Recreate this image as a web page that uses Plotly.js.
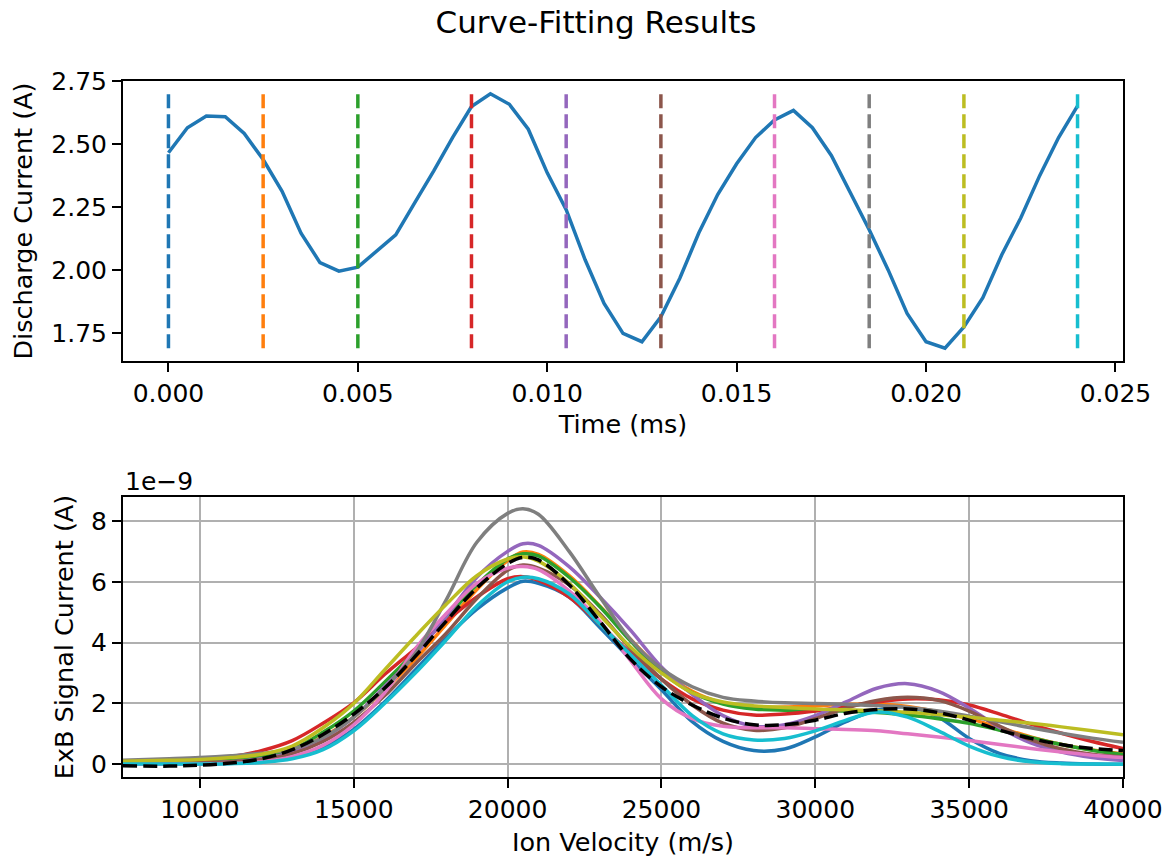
<!DOCTYPE html>
<html>
<head>
<meta charset="utf-8">
<script src="https://cdn.plot.ly/plotly-3.0.1.min.js"></script>
<style>html,body{margin:0;padding:0;background:#fff;}</style>
</head>
<body>
<div id="chart" style="width:1171px;height:859px;"></div>
<script>
// ---------------- Data: top panel (discharge current vs time) ----------------
const timeMs = [0, 0.0005, 0.001, 0.0015, 0.002, 0.0025, 0.003, 0.0035, 0.004, 0.0045,
  0.005, 0.0055, 0.006, 0.0065, 0.007, 0.0075, 0.008, 0.0085, 0.009, 0.0095,
  0.010, 0.0105, 0.011, 0.0115, 0.012, 0.0125, 0.013, 0.0135, 0.014, 0.0145,
  0.015, 0.0155, 0.016, 0.0165, 0.017, 0.0175, 0.018, 0.0185, 0.019, 0.0195,
  0.020, 0.0205, 0.021, 0.0215, 0.022, 0.0225, 0.023, 0.0235, 0.024];
const dischargeCurrent = [2.466, 2.565, 2.612, 2.609, 2.542, 2.439, 2.313, 2.147, 2.030, 1.996,
  2.012, 2.076, 2.140, 2.267, 2.393, 2.526, 2.649, 2.700, 2.658, 2.559,
  2.386, 2.240, 2.041, 1.868, 1.749, 1.716, 1.815, 1.968, 2.147, 2.300,
  2.422, 2.526, 2.596, 2.634, 2.565, 2.455, 2.307, 2.160, 2.001, 1.828,
  1.716, 1.690, 1.775, 1.891, 2.061, 2.207, 2.375, 2.526, 2.652];
const markerTimes = [0, 0.0025, 0.005, 0.008, 0.0105, 0.013, 0.016, 0.0185, 0.021, 0.024];
const timeTicks = [0, 0.005, 0.010, 0.015, 0.020, 0.025];
const currentTicks = [1.75, 2.00, 2.25, 2.50, 2.75];

// ---------------- Data: bottom panel (ExB signal, units of 1e-9 A) ----------------
const velocity = [7500, 9000, 10000, 11000, 12000, 13000, 14000, 15000, 16000, 17000,
  18000, 19000, 20000, 20500, 21000, 22000, 23000, 24000, 25000, 26000,
  27000, 28000, 29000, 30000, 31000, 32000, 33000, 34000, 35000, 36000,
  37000, 38000, 39000, 40000];
const measuredSignal = [-0.05, -0.06, -0.03, 0.04, 0.18, 0.48, 0.98, 1.65, 2.5, 3.55,
  4.7, 5.8, 6.6, 6.8, 6.72, 5.9, 4.7, 3.45, 2.55, 1.95,
  1.52, 1.3, 1.3, 1.45, 1.68, 1.8, 1.82, 1.7, 1.45, 1.12,
  0.85, 0.65, 0.52, 0.45];
const fit0 = [0.0, 0.0, 0.01, 0.03, 0.08, 0.22, 0.55, 1.15, 2.05, 3.1,
  4.15, 5.1, 5.8, 6.02, 5.95, 5.5, 4.5, 3.45, 2.45, 1.4,
  0.75, 0.45, 0.5, 0.9, 1.4, 1.78, 1.88, 1.55, 0.85, 0.35,
  0.12, 0.04, 0.01, 0.0];
const fit1 = [0.02, 0.03, 0.05, 0.09, 0.18, 0.42, 0.9, 1.55, 2.45, 3.45,
  4.6, 5.75, 6.7, 6.98, 6.9, 6.2, 5.2, 4.1, 3.1, 2.4,
  2.02, 1.9, 1.88, 1.92, 1.97, 1.97, 1.9, 1.72, 1.5, 1.2,
  0.9, 0.65, 0.47, 0.34];
const fit2 = [0.08, 0.1, 0.13, 0.18, 0.28, 0.5, 1.05, 1.75, 2.7, 3.7,
  4.8, 5.9, 6.75, 6.92, 6.85, 6.15, 5.18, 4.05, 3.05, 2.35,
  1.98, 1.82, 1.78, 1.77, 1.75, 1.7, 1.62, 1.5, 1.35, 1.12,
  0.88, 0.65, 0.46, 0.32];
const fit3 = [0.1, 0.13, 0.16, 0.25, 0.45, 0.78, 1.35, 2.02, 2.95, 3.8,
  4.7, 5.5, 6.1, 6.17, 6.05, 5.5, 4.6, 3.65, 2.8, 2.15,
  1.78, 1.62, 1.65, 1.75, 1.9, 2.05, 2.15, 2.12, 1.95, 1.65,
  1.32, 1.02, 0.75, 0.52];
const fit4 = [0.02, 0.03, 0.04, 0.08, 0.18, 0.4, 0.85, 1.55, 2.55, 3.6,
  4.85, 6.15, 7.0, 7.25, 7.2, 6.5, 5.5, 4.4, 3.2, 2.3,
  1.6, 1.25, 1.3, 1.6, 2.05, 2.5, 2.65, 2.4, 1.85, 1.2,
  0.7, 0.4, 0.22, 0.12];
const fit5 = [0.02, 0.03, 0.05, 0.08, 0.16, 0.35, 0.75, 1.38, 2.25, 3.3,
  4.3, 5.45, 6.38, 6.55, 6.45, 5.9, 4.95, 3.8, 2.8, 1.95,
  1.35, 1.12, 1.2, 1.5, 1.85, 2.1, 2.2, 2.1, 1.75, 1.25,
  0.8, 0.5, 0.33, 0.24];
const fit6 = [0.0, 0.0, 0.01, 0.03, 0.08, 0.25, 0.62, 1.3, 2.35, 3.8,
  4.95, 5.95, 6.45, 6.5, 6.4, 5.7, 4.7, 3.4, 2.15, 1.5,
  1.25, 1.2, 1.2, 1.17, 1.14, 1.1, 1.0, 0.9, 0.78, 0.65,
  0.52, 0.4, 0.3, 0.22];
const fit7 = [0.13, 0.18, 0.22, 0.28, 0.36, 0.5, 0.88, 1.55, 2.5, 3.65,
  5.4, 7.3, 8.25, 8.4, 8.22, 7.0, 5.5, 4.1, 3.15, 2.55,
  2.2, 2.08, 2.02, 2.0, 1.97, 1.93, 1.87, 1.75, 1.58, 1.4,
  1.2, 1.02, 0.86, 0.72];
const fit8 = [0.1, 0.13, 0.16, 0.22, 0.33, 0.6, 1.2, 2.0, 3.1, 4.2,
  5.25, 6.2, 6.75, 6.82, 6.68, 5.95, 4.9, 3.85, 3.0, 2.35,
  2.05, 1.92, 1.87, 1.82, 1.79, 1.76, 1.71, 1.63, 1.55, 1.45,
  1.35, 1.23, 1.1, 0.97];
const fit9 = [0.01, 0.01, 0.01, 0.02, 0.06, 0.18, 0.48, 1.1, 2.0, 3.0,
  4.08, 5.2, 6.0, 6.15, 6.1, 5.6, 4.6, 3.6, 2.6, 1.6,
  1.0, 0.8, 0.85, 1.1, 1.45, 1.72, 1.55, 1.1, 0.6, 0.25,
  0.08, 0.02, 0.01, 0.0];
const velocityTicks = [10000, 15000, 20000, 25000, 30000, 35000, 40000];
const signalTicks = [0, 2, 4, 6, 8];

const tab10 = ['#1f77b4', '#ff7f0e', '#2ca02c', '#d62728', '#9467bd',
               '#8c564b', '#e377c2', '#7f7f7f', '#bcbd22', '#17becf'];
const fits = [fit0, fit1, fit2, fit3, fit4, fit5, fit6, fit7, fit8, fit9];

// ---------------- Traces ----------------
const traces = [];
traces.push({x: timeMs, y: dischargeCurrent, type: 'scatter', mode: 'lines',
  line: {color: tab10[0], width: 3.5}, xaxis: 'x', yaxis: 'y', hoverinfo: 'skip'});
const yMin = Math.min(...dischargeCurrent), yMax = Math.max(...dischargeCurrent);
markerTimes.forEach((t, i) => {
  traces.push({x: [t, t], y: [yMin, yMax], type: 'scatter', mode: 'lines',
    line: {color: tab10[i % 10], width: 3.5, dash: '14px,6px'}, xaxis: 'x', yaxis: 'y'});
});
fits.forEach((f, i) => {
  traces.push({x: velocity, y: f, type: 'scatter', mode: 'lines',
    line: {color: tab10[i], width: 3.5, shape: 'spline', smoothing: 1}, xaxis: 'x2', yaxis: 'y2'});
});
traces.push({x: velocity, y: measuredSignal, type: 'scatter', mode: 'lines',
  line: {color: 'black', width: 3.5, dash: '14px,6px', shape: 'spline', smoothing: 1}, xaxis: 'x2', yaxis: 'y2'});

// ---------------- Layout ----------------
const W = 1171, H = 859;
const axCommon = {
  showline: true, mirror: true, linecolor: 'black', linewidth: 2,
  ticks: 'outside', ticklen: 9, tickwidth: 2, tickcolor: 'black',
  zeroline: false, fixedrange: true, automargin: false,
  tickfont: {size: 25, color: 'black'}
};
const labelFont = {size: 25.5, color: 'black'};
const layout = {
  width: W, height: H,
  margin: {l: 0, r: 0, t: 0, b: 0},
  paper_bgcolor: 'white', plot_bgcolor: 'white',
  showlegend: false,
  font: {family: 'DejaVu Sans', size: 25, color: 'black'},
  title: {text: 'Curve-Fitting Results', x: 596 / W, xanchor: 'center', xref: 'container',
          y: 1 - 22 / H, yanchor: 'middle', yref: 'container', font: {size: 31, color: 'black'}},
  xaxis: Object.assign({}, axCommon, {
    domain: [123 / W, 1123 / W], anchor: 'y', range: [-0.0012, 0.0252],
    tickvals: timeTicks, tickformat: '.3f', showgrid: false,
    title: {text: 'Time (ms)', standoff: 8, font: labelFont}
  }),
  yaxis: Object.assign({}, axCommon, {
    domain: [1 - 361 / H, 1 - 81 / H], anchor: 'x', range: [1.6395, 2.7505],
    tickvals: currentTicks, tickformat: '.2f', showgrid: false,
    title: {text: 'Discharge Current (A)', standoff: 11, font: labelFont}
  }),
  xaxis2: Object.assign({}, axCommon, {
    domain: [123 / W, 1123 / W], anchor: 'y2', range: [7500, 40000],
    tickvals: velocityTicks, tickformat: 'd', showgrid: true, gridcolor: '#b0b0b0', gridwidth: 2,
    title: {text: 'Ion Velocity (m/s)', standoff: 10, font: labelFont}
  }),
  yaxis2: Object.assign({}, axCommon, {
    domain: [1 - 777 / H, 1 - 497 / H], anchor: 'x2', range: [-0.4185, 8.7885],
    tickvals: signalTicks, tickformat: 'd', showgrid: true, gridcolor: '#b0b0b0', gridwidth: 2,
    title: {text: 'ExB Signal Current (A)', standoff: 10, font: labelFont}
  }),
  annotations: [{
    text: '1e\u22129', xref: 'paper', yref: 'paper', x: 123 / W, y: 1 - 481 / H,
    xanchor: 'left', yanchor: 'middle', showarrow: false, font: {size: 25, color: 'black'}
  }]
};

Plotly.newPlot('chart', traces, layout, {displayModeBar: false, staticPlot: true});
</script>
</body>
</html>
